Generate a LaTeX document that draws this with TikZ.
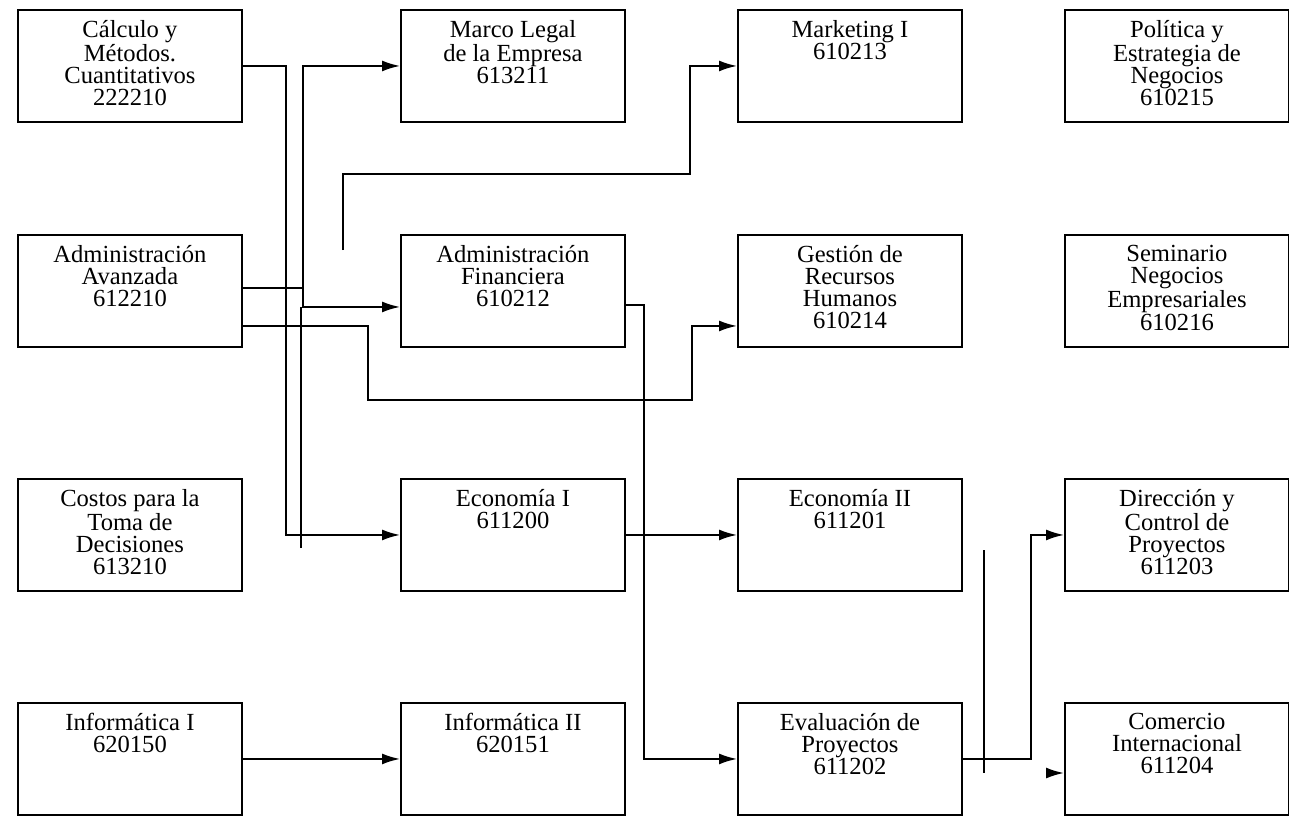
\documentclass[tikz,border=0pt]{standalone}
\usepackage{fontspec}
\setmainfont{Liberation Serif}
\usetikzlibrary{arrows.meta}

\begin{document}
\begin{tikzpicture}[
    x=0.02cm, y=-0.02cm,
    course/.style={draw, line width=1.1pt, minimum width=4.48cm, minimum height=2.24cm, anchor=north west, inner sep=0pt},
    course text/.style={anchor=north, yshift=-0.22cm, align=center, inner sep=0pt, font=\fontsize{14}{12.6}\selectfont},
    prereq/.style={draw, line width=1.1pt, -{Latex[length=3.6mm,width=2.2mm]}},
    loose end/.style={draw, line width=1.1pt}
    ]
\useasboundingbox (0,0) rectangle (1289,816);

% row 1
\node[course, label={[course text]north:{Cálculo y\\Métodos.\\Cuantitativos\\222210}}] (calc) at (17,9) {};
\node[course, label={[course text]north:{Marco Legal\\de la Empresa\\613211}}] (marco) at (400,9) {};
\node[course, label={[course text]north:{Marketing I\\610213}}] (mkt) at (737,9) {};
\node[course, label={[course text]north:{Política y\\Estrategia de\\Negocios\\610215}}] (poli) at (1064,9) {};
% row 2
\node[course, label={[course text]north:{Administración\\Avanzada\\612210}}] (adav) at (17,234) {};
\node[course, label={[course text]north:{Administración\\Financiera\\610212}}] (adfin) at (400,234) {};
\node[course, label={[course text]north:{Gestión de\\Recursos\\Humanos\\610214}}] (gest) at (737,234) {};
\node[course, label={[course text]north:{Seminario\\Negocios\\Empresariales\\610216}}] (semi) at (1064,234) {};
% row 3
\node[course, label={[course text]north:{Costos para la\\Toma de\\Decisiones\\613210}}] (cost) at (17,478) {};
\node[course, label={[course text]north:{Economía I\\611200}}] (eco1) at (400,478) {};
\node[course, label={[course text]north:{Economía II\\611201}}] (eco2) at (737,478) {};
\node[course, label={[course text]north:{Dirección y\\Control de\\Proyectos\\611203}}] (dir) at (1064,478) {};
% row 4
\node[course, label={[course text]north:{Informática I\\620150}}] (inf1) at (17,702) {};
\node[course, label={[course text]north:{Informática II\\620151}}] (inf2) at (400,702) {};
\node[course, label={[course text]north:{Evaluación de\\Proyectos\\611202}}] (eval) at (737,702) {};
\node[course, label={[course text]north:{Comercio\\Internacional\\611204}}] (com) at (1064,702) {};

\coordinate (fin-in) at ([yshift=-0.32cm]adfin.west);
\coordinate (s1) at (301,548);
\coordinate (s2) at (343,250);
\coordinate (s3top) at (984,550);
\coordinate (s3bot) at (984,773);
\coordinate (tip) at (1047,773);

\draw[prereq] (calc.east) -- ++(43,0) |- (eco1.west);
\draw[prereq] ([yshift=0.06cm]adav.east) -- ++(60,0) |- (marco.west);
\draw[prereq] ([yshift=0.06cm]adav.east) -- ++(60,0) |- (fin-in);
\draw[loose end] (s1) -- (s1 |- fin-in);
\draw[prereq] ([yshift=-0.7cm]adav.east) -- ++(125,0) -- ++(0,74) -- ++(324,0) |- ([yshift=-0.7cm]gest.west);
\draw[prereq] (s2) -- ++(0,-76) -- ++(347,0) |- (mkt.west);
\draw[prereq] ([yshift=-0.28cm]adfin.east) -- ++(18,0) |- (eval.west);
\draw[prereq] (eco1.east) -- (eco2.west);
\draw[prereq] (inf1.east) -- (inf2.west);
\draw[prereq] (eval.east) -- ++(68,0) |- (dir.west);
\draw[loose end] (s3top) -- (s3bot);
\draw[prereq] (tip) -- (tip -| com.west);
\end{tikzpicture}
\end{document}
